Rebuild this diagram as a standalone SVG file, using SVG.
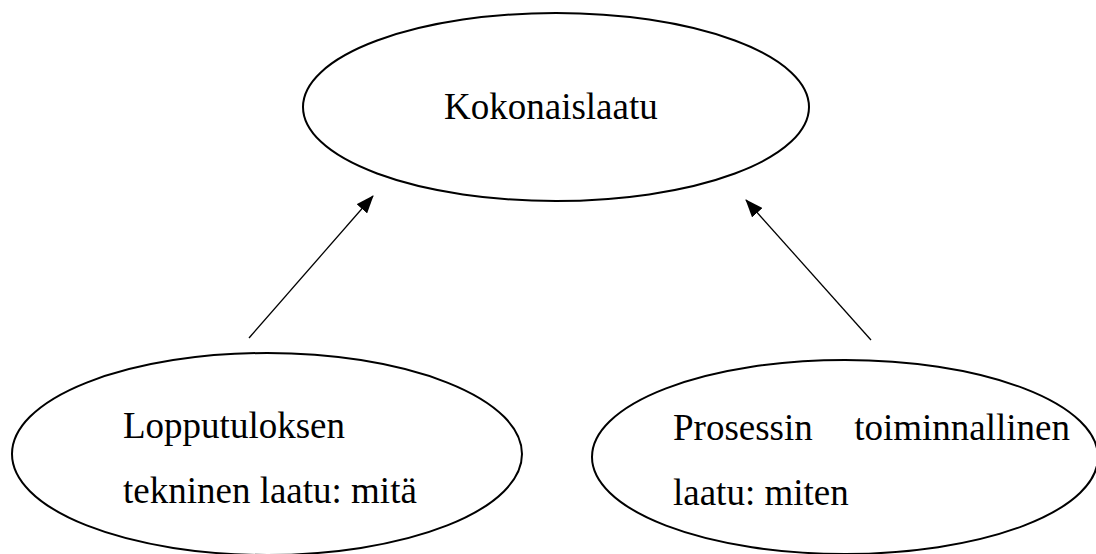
<svg xmlns="http://www.w3.org/2000/svg" width="1096" height="554" viewBox="0 0 1096 554">
  <style>
    .node { fill: #ffffff; stroke: #000000; stroke-width: 2; }
    .label { font-family: 'Liberation Serif', 'Times New Roman', Times, 'DejaVu Serif', serif; font-size: 37px; fill: #000000; }
    .edge { stroke: #000000; stroke-width: 1.3; fill: none; }
  </style>
  <defs>
    <marker id="arrow" markerUnits="userSpaceOnUse" markerWidth="18" markerHeight="14" viewBox="0 0 18 14" refX="17" refY="7" orient="auto">
      <path d="M0,0 L18,7 L0,14 Z" fill="#000000"/>
    </marker>
  </defs>
  <rect width="1096" height="554" fill="#ffffff"/>
  <g id="kokonaislaatu">
    <ellipse class="node" cx="556" cy="107" rx="253" ry="94"/>
    <text class="label" font-family="Liberation Serif, serif" x="444" y="119">Kokonaislaatu</text>
  </g>
  <g id="lopputulos">
    <ellipse class="node" cx="267" cy="454" rx="255" ry="101"/>
    <text class="label" font-family="Liberation Serif, serif" x="123" y="438">Lopputuloksen</text>
    <text class="label" font-family="Liberation Serif, serif" x="123" y="503">tekninen laatu: mitä</text>
  </g>
  <g id="prosessi">
    <ellipse class="node" cx="845" cy="457" rx="253" ry="97"/>
    <text class="label" font-family="Liberation Serif, serif" x="673" y="440">Prosessin</text>
    <text class="label" font-family="Liberation Serif, serif" x="1070" y="440" text-anchor="end">toiminnallinen</text>
    <text class="label" font-family="Liberation Serif, serif" x="673" y="505">laatu: miten</text>
  </g>
  <g id="connectors">
    <line class="edge" x1="249" y1="338" x2="373" y2="196" marker-end="url(#arrow)"/>
    <line class="edge" x1="871" y1="340" x2="746" y2="200" marker-end="url(#arrow)"/>
  </g>
</svg>
